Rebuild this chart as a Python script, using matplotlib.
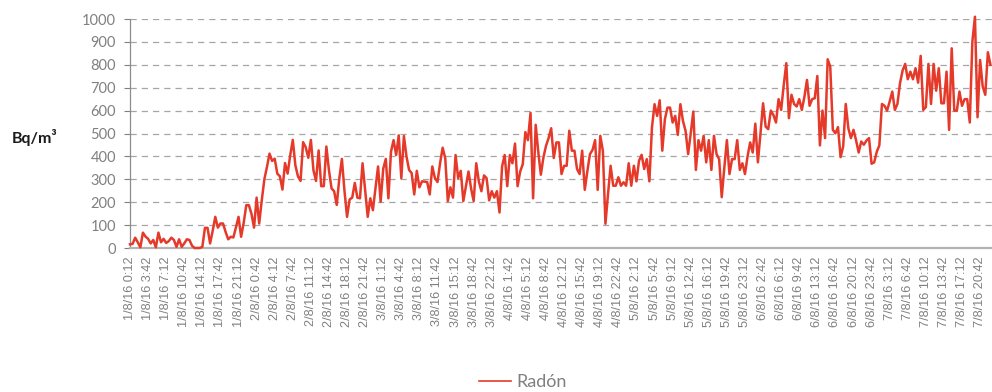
# -*- coding: utf-8 -*-
import matplotlib
matplotlib.use("Agg")
import matplotlib.pyplot as plt

# Concentracion de radon, lecturas cada 30 minutos (Bq/m3)
radon_d1 = [16, 18, 45, 25, 3, 67, 50, 40, 20, 35,
            3, 67, 25, 40, 22, 30, 45, 35, 5, 38,
            5, 20, 38, 35, 10, 0, 0, 0, 5, 88,
            88, 20, 75, 136, 89, 107, 107, 70, 38, 49,
            46, 90, 136, 49, 110, 187, 187, 150]
radon_d2 = [89, 220, 107, 209, 300, 354, 412, 380, 390, 325,
            313, 255, 371, 325, 404, 472, 361, 313, 293, 462,
            440, 394, 472, 339, 293, 426, 270, 270, 443, 339,
            260, 248, 188, 303, 389, 250, 136, 212, 220, 284,
            220, 217, 370, 255, 136, 217, 165, 262]
radon_d3 = [356, 202, 346, 389, 217, 420, 471, 406, 492, 305,
            489, 400, 341, 327, 234, 337, 265, 291, 290, 288,
            234, 356, 305, 288, 370, 438, 392, 205, 265, 220,
            406, 305, 337, 205, 270, 334, 260, 205, 370, 291,
            248, 317, 305, 208, 248, 220, 248, 155]
radon_d4 = [356, 406, 270, 406, 370, 456, 270, 334, 366, 506,
            471, 590, 217, 538, 420, 320, 396, 446, 480, 523,
            393, 461, 461, 323, 359, 359, 512, 425, 425, 345,
            323, 425, 254, 335, 410, 428, 471, 254, 490, 425,
            106, 236, 359, 272, 272, 309, 272, 287]
radon_d5 = [272, 370, 272, 359, 291, 381, 407, 345, 388, 291,
            526, 628, 577, 645, 425, 562, 613, 613, 548, 577,
            494, 628, 555, 512, 410, 500, 596, 341, 471, 425,
            490, 374, 471, 341, 490, 410, 388, 222, 350, 471,
            323, 388, 388, 471, 341, 370, 323, 400]
radon_d6 = [461, 417, 543, 374, 500, 632, 530, 519, 600, 581,
            548, 650, 603, 712, 807, 567, 669, 629, 618, 650,
            603, 660, 734, 621, 650, 654, 751, 448, 600, 480,
            824, 792, 516, 501, 528, 397, 443, 629, 523, 480,
            516, 470, 417, 465, 451, 469, 480, 368]
radon_d7 = [374, 420, 448, 629, 621, 600, 640, 683, 603, 629,
            720, 775, 804, 737, 770, 737, 785, 722, 839, 603,
            615, 804, 629, 804, 687, 785, 632, 632, 770, 516,
            872, 600, 600, 683, 621, 650, 650, 548, 901, 1010,
            571, 821, 705, 669, 855, 800]

# Etiquetas del eje x (una cada 7 lecturas)
etiquetas = ["1/8/16 0:12", "1/8/16 3:42", "1/8/16 7:12", "1/8/16 10:42",
             "1/8/16 14:12", "1/8/16 17:42", "1/8/16 21:12",
             "2/8/16 0:42", "2/8/16 4:12", "2/8/16 7:42", "2/8/16 11:12",
             "2/8/16 14:42", "2/8/16 18:12", "2/8/16 21:42",
             "3/8/16 1:12", "3/8/16 4:42", "3/8/16 8:12", "3/8/16 11:42",
             "3/8/16 15:12", "3/8/16 18:42", "3/8/16 22:12",
             "4/8/16 1:42", "4/8/16 5:12", "4/8/16 8:42", "4/8/16 12:12",
             "4/8/16 15:42", "4/8/16 19:12", "4/8/16 22:42",
             "5/8/16 2:12", "5/8/16 5:42", "5/8/16 9:12", "5/8/16 12:42",
             "5/8/16 16:12", "5/8/16 19:42", "5/8/16 23:12",
             "6/8/16 2:42", "6/8/16 6:12", "6/8/16 9:42", "6/8/16 13:12",
             "6/8/16 16:42", "6/8/16 20:12", "6/8/16 23:42",
             "7/8/16 3:12", "7/8/16 6:42", "7/8/16 10:12", "7/8/16 13:42",
             "7/8/16 17:12", "7/8/16 20:42"]
paso_etiqueta = 7

radon = radon_d1 + radon_d2 + radon_d3 + radon_d4 + radon_d5 + radon_d6 + radon_d7
x = list(range(len(radon)))

plt.rcParams['font.family'] = ['Lato', 'DejaVu Sans']
gris = '#808080'
rojo = '#e5392a'

fig = plt.figure(figsize=(9.92, 3.92), dpi=100)
ax = fig.add_axes([130 / 992, 1 - 248 / 392, 1 - 130 / 992, 229 / 392])

ax.plot(x, radon, color=rojo, lw=1.8, label='Radón', clip_on=False, zorder=3)

# Ejes
ax.set_xlim(0, len(radon) - 0.4)
ax.set_ylim(0, 1000)
ax.set_yticks(range(0, 1001, 100))
ax.set_xticks(x[::paso_etiqueta])
ax.set_xticklabels(etiquetas, rotation=90, fontsize=9.2, color=gris,
                   family=['Liberation Sans', 'DejaVu Sans'])
ax.tick_params(axis='y', labelsize=10.5, labelcolor=gris, color=gris, length=4, width=0.8, pad=6)
ax.tick_params(axis='x', length=0, pad=6)

ax.grid(axis='y', color='#a6a6a6', linestyle=(0, (5, 4)), lw=0.9)
ax.set_axisbelow(True)
for lado in ['top', 'right']:
    ax.spines[lado].set_visible(False)
ax.spines['left'].set_color('#8c8c8c')
ax.spines['left'].set_linewidth(0.9)
ax.spines['bottom'].set_color('#b3b3b3')
ax.spines['bottom'].set_linewidth(1.6)

fig.text(12 / 992, 1 - 138 / 392, 'Bq/m³', fontsize=11.5, fontweight='bold',
         color='#1a1a1a', va='center', ha='left')

leg = fig.legend(loc='center', bbox_to_anchor=(523 / 992, 1 - 382 / 392), frameon=False,
                 fontsize=13, handlelength=1.8, handletextpad=0.3, labelcolor=gris)
leg.get_lines()[0].set_linewidth(1.2)

fig.savefig('out.png', dpi=100)
